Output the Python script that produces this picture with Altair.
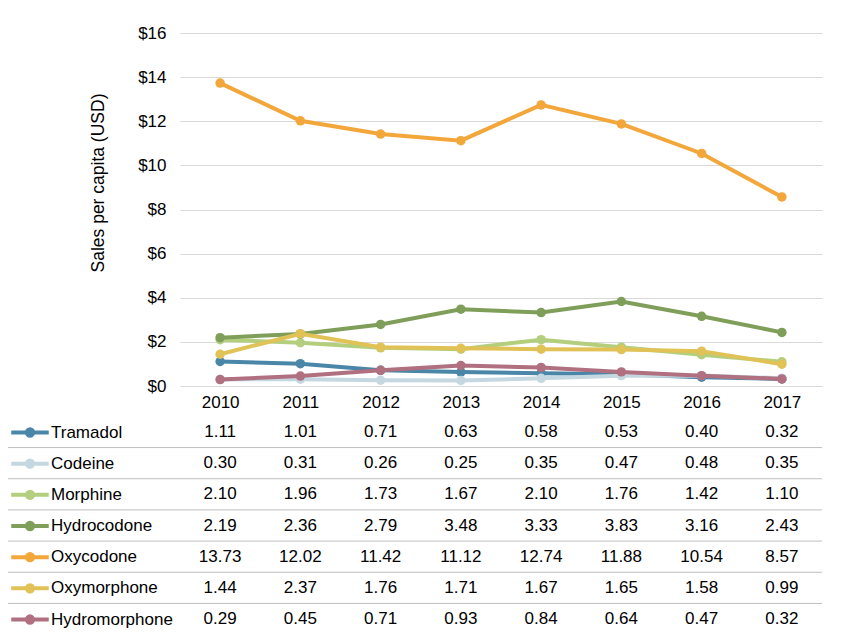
import altair as alt
import pandas as pd

years = ["2010", "2011", "2012", "2013", "2014", "2015", "2016", "2017"]
drugs = ["Tramadol", "Codeine", "Morphine", "Hydrocodone", "Oxycodone", "Oxymorphone", "Hydromorphone"]
colors = ["#4a86a8", "#c5d8e2", "#b3cf7e", "#7f9e5a", "#f3a73b", "#e0c256", "#b07080"]

tramadol = [1.11, 1.01, 0.71, 0.63, 0.58, 0.53, 0.40, 0.32]
codeine = [0.30, 0.31, 0.26, 0.25, 0.35, 0.47, 0.48, 0.35]
morphine = [2.10, 1.96, 1.73, 1.67, 2.10, 1.76, 1.42, 1.10]
hydrocodone = [2.19, 2.36, 2.79, 3.48, 3.33, 3.83, 3.16, 2.43]
oxycodone = [13.73, 12.02, 11.42, 11.12, 12.74, 11.88, 10.54, 8.57]
oxymorphone = [1.44, 2.37, 1.76, 1.71, 1.67, 1.65, 1.58, 0.99]
hydromorphone = [0.29, 0.45, 0.71, 0.93, 0.84, 0.64, 0.47, 0.32]

series = [tramadol, codeine, morphine, hydrocodone, oxycodone, oxymorphone, hydromorphone]
rows = []
for d, vals in zip(drugs, series):
    for y, v in zip(years, vals):
        rows.append({"drug": d, "year": y, "value": v})
df = pd.DataFrame(rows)
sep_df = pd.DataFrame({"drug": drugs[1:]})

FONT = "Liberation Sans"
GRID = "#d9d9d9"

x_enc = alt.X(
    "year:N",
    scale=alt.Scale(type="point", domain=years, padding=0.5),
    axis=alt.Axis(domain=False, ticks=False, labelFontSize=17, labelColor="black",
                  labelPadding=8, labelAngle=0, grid=False),
    title=None,
)

y_enc = alt.Y(
    "value:Q",
    scale=alt.Scale(domain=[0, 16], nice=False),
    axis=alt.Axis(values=[0, 2, 4, 6, 8, 10, 12, 14, 16], format="$.0f", domain=False,
                  ticks=False, labelFontSize=17, labelColor="black", labelPadding=14,
                  gridColor=GRID, gridWidth=1,
                  titleFontSize=17.5, titleFontWeight="normal", titleColor="black",
                  titleX=-82, titleY=149.5, titleAngle=-90, titleAlign="center",
                  titleBaseline="middle"),
    title="Sales per capita (USD)",
)

sym_path = ("M-2.5,0L2.5,0M-0.42,0A0.42,0.42,0,1,1,0.42,0"
            "A0.42,0.42,0,1,1,-0.42,0Z")

color_enc = alt.Color(
    "drug:N",
    scale=alt.Scale(domain=drugs, range=colors),
    title=None,
    legend=alt.Legend(
        orient="none", legendX=-159.5, legendY=390, symbolType=sym_path,
        symbolSize=225, symbolStrokeWidth=4, labelFontSize=17, labelOffset=11.5,
        labelColor="black", rowPadding=8.17, padding=0, symbolOpacity=1,
    ),
)

line_layers = []
for d in drugs:
    line_layers.append(
        alt.Chart(df[df["drug"] == d]).mark_line(
            strokeWidth=4,
            point=alt.OverlayMarkDef(filled=True, size=90, opacity=1),
        ).encode(x=x_enc, y=y_enc, color=color_enc)
    )
lines = alt.layer(*line_layers)

table_y = alt.Scale(type="band", domain=drugs, range=[383.4, 601.6],
                    paddingInner=0, paddingOuter=0)

table_text = alt.Chart(df).mark_text(fontSize=17, color="black").encode(
    x=x_enc,
    y=alt.Y("drug:N", scale=table_y, axis=None),
    text=alt.Text("value:Q", format=".2f"),
)

separators = alt.Chart(sep_df).mark_rule(color="#bfbfbf", strokeWidth=1).encode(
    x=alt.value(-172),
    x2=alt.value(642),
    y=alt.Y("drug:N", scale=table_y, axis=None, bandPosition=0),
)

table = alt.layer(separators, table_text)

chart = alt.layer(lines, table).resolve_scale(y="independent").properties(
    width=642,
    height=353,
    padding={"left": 172, "top": 25, "right": 15, "bottom": 252},
    autosize=alt.AutoSizeParams(type="none"),
).configure(font=FONT).configure_view(stroke=None)

chart.save("out.html", embed_options={"renderer": "svg", "actions": False})
